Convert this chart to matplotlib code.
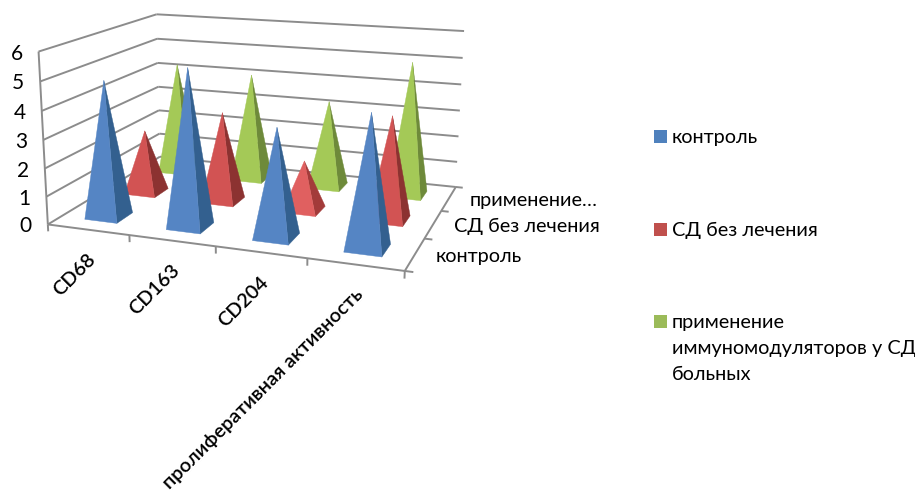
import numpy as np
import matplotlib
matplotlib.use('Agg')
import matplotlib.pyplot as plt
from matplotlib.patches import Rectangle
from mpl_toolkits.mplot3d import proj3d
from mpl_toolkits.mplot3d.art3d import Poly3DCollection, Line3DCollection

categories = ['CD68', 'CD163', 'CD204', 'пролиферативная активность']
series_short = ['контроль', 'СД без лечения', 'применение…']
legend_labels = ['контроль', 'СД без лечения', 'применение\nиммуномодуляторов у СД\nбольных']
control = [4.85, 5.5, 3.75, 4.5]
untreated = [2.35, 3.3, 1.8, 3.7]
immuno = [4.3, 4.1, 3.3, 5.0]
y_ticks = [0, 1, 2, 3, 4, 5, 6]

values = [control, untreated, immuno]
face_front = ['#5585C4', '#D25353', '#A4C957']
face_side = ['#33608F', '#8C3231', '#6E8A3A']
legend_colors = ['#4F81BD', '#C0504D', '#9BBB59']
grid_color = '#8C8C8C'
half = 0.2

plt.rcParams['font.family'] = ['Lato', 'Open Sans']
W, H = 915, 490
n_cat, n_ser, top = len(categories), len(series_short), y_ticks[-1]

# Excel's camera: box corners -> image pixels, solved for a projective matrix
box_world = [(0, 0, 0), (n_cat, 0, 0), (n_cat, n_ser, 0), (0, n_ser, 0),
             (0, 0, top), (0, n_ser, top), (n_cat, n_ser, top)]
box_pixel = [(47.7, 224), (405, 271), (455.7, 187), (160, 157),
             (38.5, 52), (156.7, 14), (464, 31)]
A, b = [], []
for (X, Y, Z), (u, v) in zip(box_world, box_pixel):
    A.append([X, Y, Z, 1, 0, 0, 0, 0, -u*X, -u*Y, -u*Z])
    A.append([0, 0, 0, 0, X, Y, Z, 1, -v*X, -v*Y, -v*Z])
    b += [u, v]
p = np.linalg.lstsq(np.array(A, float), np.array(b, float), rcond=None)[0]
M = np.array([[p[0], p[1], p[2], p[3]],
              [p[4], p[5], p[6], p[7]],
              [0, 1, 0, 0],
              [p[8], p[9], p[10], 1]])

fig = plt.figure(figsize=(W/100, H/100), dpi=100)
# square axes as wide as the figure, so data units are image pixels
ax = fig.add_axes([0, -(W-H)/2/H, 1, W/H], projection='3d')
ax.get_proj = lambda: M
ax.viewLim.intervalx = (0, W)
ax.viewLim.intervaly = (H+(W-H)/2, -(W-H)/2)
ax.set_axis_off()
ax.computed_zorder = False


def project(x, y, z):
    u, v, _ = proj3d.proj_transform(x, y, z, M)
    return u, v


# walls, floor edges and ticks
segments = []
for v in y_ticks:
    segments.append([(0, 0, v), (0, n_ser, v)])
    segments.append([(0, n_ser, v), (n_cat, n_ser, v)])
segments.append([(0, 0, 0), (0, 0, top)])
segments.append([(0, 0, 0), (n_cat, 0, 0)])
segments.append([(n_cat, 0, 0), (n_cat, n_ser, 0)])
for i in range(n_cat+1):
    segments.append([(i, 0, 0), (i, 0, -0.25)])
for s in range(n_ser+1):
    segments.append([(n_cat, s, 0), (n_cat+0.085, s, 0)])
ax.add_collection3d(Line3DCollection(segments, colors=grid_color, linewidths=1.4, zorder=1))

# pyramids, back row first
for s in reversed(range(n_ser)):
    for i in range(n_cat):
        x, y, h = i+0.5, s+0.5, values[s][i]
        apex = (x, y, h)
        fl, fr = (x-half, y-half, 0), (x+half, y-half, 0)
        br = (x+half, y+half, 0)
        front, side = face_front[s], face_side[s]
        # the small red pyramid comes out brighter in the original
        if (s, i) == (1, 2):
            front, side = '#E06060', '#A33B3A'
        pyr = Poly3DCollection([[fl, fr, apex], [fr, br, apex]],
                               facecolors=[front, side], edgecolors=[front, side],
                               linewidths=0.3, zorder=10-s+i*0.01)
        ax.add_collection3d(pyr)

text_size = 14.3
for v in y_ticks:
    u, w = project(0, 0, v)
    ax.text2D(u-22, w+2, str(v), transform=ax.transData, ha='center', va='center',
              fontsize=text_size+0.7)
for i, name in enumerate(categories):
    u, w = project(i+0.5, 0, 0)
    ax.text2D(u+5, w+27, name, transform=ax.transData, rotation=45, ha='right',
              va='center', rotation_mode='anchor', fontsize=text_size, fontweight='semibold')
for s, name in enumerate(series_short):
    u, w = project(n_cat, s+0.5, 0)
    ax.text2D(u+21, w+2, name, transform=ax.transData, ha='left', va='center',
              fontsize=text_size)

# legend
legend_y = [136.5, 229.5, 321.5]
for label, color, y in zip(legend_labels, legend_colors, legend_y):
    fig.add_artist(Rectangle((654, y-6.5), 13, 13, facecolor=color, edgecolor='none',
                             transform=ax.transData))
    ax.text2D(672, y-7.5, label, transform=ax.transData, ha='left', va='top',
              fontsize=text_size, linespacing=1.65)

fig.savefig('out.png', dpi=100)
